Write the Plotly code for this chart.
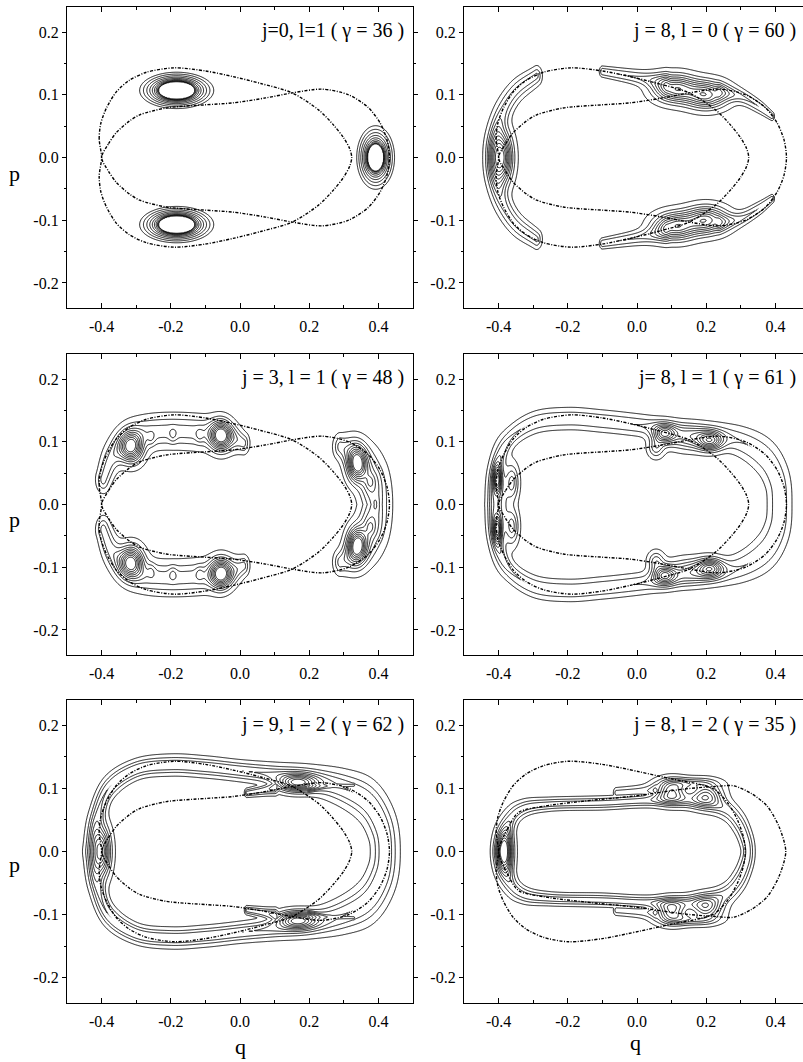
import numpy as np
import plotly.graph_objects as go

# ---------------- data ----------------
PANEL_LABELS = ["j=0, l=1 ( γ = 36 )", "j = 8, l = 0 ( γ = 60 )",
                "j = 3, l = 1 ( γ = 48 )", "j= 8, l = 1 ( γ = 61 )",
                "j = 9, l = 2 ( γ = 62 )", "j = 8, l = 2 ( γ = 35 )"]

X_TICKS = [-0.4, -0.2, 0.0, 0.2, 0.4]
X_TICK_TEXT = ["-0.4", "-0.2", "0.0", "0.2", "0.4"]
X_MINOR = [-0.5, -0.3, -0.1, 0.1, 0.3, 0.5]
Y_TICKS = [-0.2, -0.1, 0.0, 0.1, 0.2]
Y_TICK_TEXT = ["-0.2", "-0.1", "0.0", "0.1", "0.2"]
Y_MINOR = [-0.15, -0.05, 0.05, 0.15]

# separatrix branches, upper halves (q, p); lower half is the mirror p -> -p
SEP_A1 = [(-0.400, 0.000), (-0.407, 0.030), (-0.402, 0.055), (-0.385, 0.080), (-0.357, 0.105),
          (-0.320, 0.123), (-0.270, 0.136), (-0.190, 0.143), (-0.100, 0.138), (-0.020, 0.129),
          (0.060, 0.118), (0.151, 0.103), (0.227, 0.076), (0.270, 0.052), (0.300, 0.031),
          (0.317, 0.014), (0.323, 0.000)]
SEP_A2 = [(-0.400, 0.000), (-0.380, 0.022), (-0.357, 0.040), (-0.320, 0.058), (-0.290, 0.068),
          (-0.213, 0.079), (-0.100, 0.084), (-0.022, 0.087), (0.074, 0.095), (0.151, 0.103),
          (0.237, 0.109), (0.314, 0.100), (0.370, 0.080), (0.405, 0.055), (0.425, 0.028), (0.432, 0.000)]
SEP_B1 = [(-0.400, 0.000), (-0.407, 0.030), (-0.402, 0.055), (-0.385, 0.080), (-0.357, 0.105),
          (-0.320, 0.123), (-0.270, 0.136), (-0.199, 0.143), (-0.100, 0.138), (0.009, 0.126),
          (0.100, 0.115), (0.184, 0.106), (0.225, 0.098), (0.265, 0.075), (0.292, 0.048),
          (0.308, 0.022), (0.313, 0.000)]
SEP_B2 = [(-0.400, 0.000), (-0.375, 0.035), (-0.342, 0.062), (-0.266, 0.072), (-0.150, 0.080),
          (-0.007, 0.088), (0.137, 0.099), (0.225, 0.103), (0.280, 0.104), (0.330, 0.092),
          (0.376, 0.072), (0.410, 0.040), (0.430, 0.000)]

# panel 1: ring families (q0, p0, outer half-width q, outer half-width p, inner/outer radius ratio)
RINGS_1 = [(-0.183, 0.107, 0.107, 0.029, 0.46), (0.392, 0.0, 0.055, 0.051, 0.40)]

# other panels, upper halves (mirrored p -> -p):
# blobs: (q0, p0, sigma_q, sigma_p, amplitude); bands: (amplitude, ridge points (q, p, width))
BLOBS_2 = [(-0.392, 0.0, 0.020, 0.027, 1.0), (0.11, 0.11, 0.040, 0.014, 0.8), (0.20, 0.10, 0.040, 0.014, 0.8)]
BANDS_2 = [(0.28, [(-0.29, 0.130, 0.009), (-0.35, 0.105, 0.011), (-0.39, 0.07, 0.013), (-0.41, 0.03, 0.014), (-0.415, 0.0, 0.014)]),
           (0.25, [(0.24, 0.105, 0.008), (0.30, 0.097, 0.007), (0.35, 0.082, 0.006), (0.39, 0.066, 0.004)]),
           (0.25, [(-0.10, 0.137, 0.005), (0.0, 0.128, 0.007), (0.08, 0.12, 0.010)])]

BLOBS_3 = [(-0.314, 0.091, 0.022, 0.016, 0.9), (-0.055, 0.110, 0.020, 0.015, 0.9), (0.338, 0.065, 0.018, 0.018, 0.9),
           (0.392, 0.0, 0.026, 0.040, 0.30),
           (-0.256, 0.105, 0.008, 0.008, 0.12), (-0.194, 0.110, 0.008, 0.008, 0.12), (-0.117, 0.110, 0.008, 0.008, 0.12),
           (0.376, 0.036, 0.008, 0.008, 0.12), (0.392, 0.0, 0.008, 0.008, 0.12)]
BANDS_3 = [(0.30, [(-0.395, 0.04, 0.012), (-0.37, 0.075, 0.015), (-0.33, 0.10, 0.016), (-0.28, 0.113, 0.016), (-0.2, 0.117, 0.016),
                   (-0.1, 0.114, 0.016), (-0.03, 0.108, 0.014), (0.01, 0.098, 0.010)]),
           (0.30, [(0.29, 0.092, 0.012), (0.33, 0.08, 0.018), (0.36, 0.06, 0.022), (0.375, 0.04, 0.022)])]

BLOBS_4 = [(-0.403, 0.04, 0.008, 0.014, 0.7), (-0.36, 0.035, 0.012, 0.018, 0.35), (-0.395, 0.0, 0.02, 0.05, 0.3),
           (0.079, 0.112, 0.022, 0.010, 0.7), (0.211, 0.101, 0.025, 0.010, 0.7), (0.15, 0.104, 0.04, 0.012, 0.35),
           (0.055, 0.09, 0.015, 0.010, 0.3)]
BANDS_4 = [(0.25, [(-0.415, 0.0, 0.012), (-0.41, 0.05, 0.011), (-0.375, 0.10, 0.010), (-0.30, 0.13, 0.010), (-0.2, 0.137, 0.010),
                   (-0.1, 0.133, 0.010), (0.0, 0.127, 0.010), (0.1, 0.12, 0.010), (0.2, 0.113, 0.011), (0.3, 0.10, 0.014),
                   (0.37, 0.075, 0.018), (0.405, 0.04, 0.020), (0.412, 0.0, 0.020)])]

BLOBS_5 = [(-0.40, 0.0, 0.017, 0.026, 0.8), (0.165, 0.108, 0.038, 0.009, 0.8)]
BANDS_5 = [(0.35, [(-0.425, 0.0, 0.015), (-0.415, 0.05, 0.013), (-0.38, 0.10, 0.011), (-0.30, 0.13, 0.009), (-0.2, 0.137, 0.009),
                   (-0.1, 0.134, 0.009), (0.0, 0.128, 0.009), (0.1, 0.122, 0.010), (0.2, 0.115, 0.012), (0.3, 0.10, 0.016),
                   (0.37, 0.078, 0.020), (0.41, 0.04, 0.022), (0.42, 0.0, 0.022)]),
           (0.40, [(0.20, 0.103, 0.006), (0.33, 0.105, 0.003)]),
           (0.30, [(0.10, 0.10, 0.006), (0.02, 0.093, 0.004)])]

BLOBS_6 = [(-0.385, 0.0, 0.016, 0.022, 0.9), (0.10, 0.095, 0.030, 0.012, 0.7), (0.20, 0.09, 0.030, 0.012, 0.6),
           (0.15, 0.108, 0.050, 0.006, 0.3)]
BANDS_6 = [(0.30, [(-0.385, 0.0, 0.014), (-0.37, 0.045, 0.012), (-0.33, 0.068, 0.008), (-0.25, 0.075, 0.006), (-0.1, 0.077, 0.006),
                   (0.0, 0.08, 0.006), (0.1, 0.082, 0.007), (0.2, 0.078, 0.009), (0.26, 0.066, 0.010), (0.295, 0.045, 0.011),
                   (0.315, 0.02, 0.011), (0.321, 0.0, 0.011)]),
           (0.20, [(-0.06, 0.093, 0.005), (0.05, 0.097, 0.006)])]

PANEL_BLOBS = [[], BLOBS_2, BLOBS_3, BLOBS_4, BLOBS_5, BLOBS_6]
PANEL_BANDS = [[], BANDS_2, BANDS_3, BANDS_4, BANDS_5, BANDS_6]
PANEL_SEPS = [(SEP_A1, SEP_A2)] * 5 + [(SEP_B1, SEP_B2)]

# ---------------- field construction ----------------
Q_GRID = np.linspace(-0.5, 0.5, 501)
P_GRID = np.linspace(-0.2, 0.2, 321)
QQ, PP = np.meshgrid(Q_GRID, P_GRID)


def catmull_rom(pts, n=10):
    arr = np.asarray(pts, dtype=float)
    ext = np.vstack([2 * arr[0] - arr[1], arr, 2 * arr[-1] - arr[-2]])
    out = []
    for i in range(1, len(ext) - 2):
        p0, p1, p2, p3 = ext[i - 1], ext[i], ext[i + 1], ext[i + 2]
        for t in np.linspace(0, 1, n, endpoint=False):
            t2, t3 = t * t, t * t * t
            out.append(0.5 * ((2 * p1) + (-p0 + p2) * t + (2 * p0 - 5 * p1 + 4 * p2 - p3) * t2
                              + (-p0 + 3 * p1 - 3 * p2 + p3) * t3))
    out.append(arr[-1])
    return np.array(out)


def band_paths(pts):
    arr = [tuple(p) for p in pts]
    mirror = [(q, -p, w) for q, p, w in arr]
    if arr[-1][1] == 0:
        return [catmull_rom(arr + mirror[::-1][1:])]
    if arr[0][1] == 0:
        return [catmull_rom(mirror[::-1] + arr[1:])]
    return [catmull_rom(arr), catmull_rom(mirror)]


def band_value(pts, amp):
    out = np.zeros_like(QQ)
    for path in band_paths(pts):
        for a, b in zip(path[:-1], path[1:]):
            q1, p1, w1 = a
            q2, p2, w2 = b
            dq, dp = q2 - q1, p2 - p1
            L2 = dq * dq + dp * dp
            if L2 == 0:
                continue
            t = np.clip(((QQ - q1) * dq + (PP - p1) * dp) / L2, 0, 1)
            d2 = (QQ - (q1 + t * dq)) ** 2 + (PP - (p1 + t * dp)) ** 2
            w = w1 + t * (w2 - w1)
            np.maximum(out, amp * np.exp(-0.5 * d2 / w ** 2), out=out)
    return out


def density(blobs, bands):
    z = np.zeros_like(QQ)
    for amp, pts in bands:
        z = np.maximum(z, band_value(pts, amp))
    for q0, p0, sq, sp, a in blobs:
        for s in ((1, -1) if p0 != 0 else (1,)):
            z = z + a * np.exp(-0.5 * ((QQ - q0) / sq) ** 2 - 0.5 * ((PP - s * p0) / sp) ** 2)
    return z


def ring_field(rings):
    # level u (0 outer .. 1 inner) sits at radius r_in + (1 - r_in) (1 - u)^2
    z = np.full_like(QQ, -1.0)
    for q0, p0, aq, ap, rin in rings:
        for s in ((1, -1) if p0 != 0 else (1,)):
            r = np.sqrt(((QQ - q0) / (aq / 0.947)) ** 2 + ((PP - s * p0) / (ap / 0.947)) ** 2)
            u = 1 - np.sqrt(np.clip((r - rin) / (1 - rin), 0, None)) + np.clip(rin - r, 0, None)
            z = np.maximum(z, u)
    return z


def closed_curve(half):
    q = [pt[0] for pt in half] + [pt[0] for pt in reversed(half[:-1])]
    p = [pt[1] for pt in half] + [-pt[1] for pt in reversed(half[:-1])]
    return q, p


# ---------------- layout geometry ----------------
W, H = 803, 1062
COL_PX = [(67, 413), (464, 803)]
ROW_PX = [(7, 308), (354, 655), (700, 1003)]
X_RANGES = [[-0.5, 0.5], [-0.5, 0.5 - (413 - 67 - 339) / 346.0]]
SERIF = "Liberation Serif"

fig = go.Figure()
layout = dict(width=W, height=H, margin=dict(l=0, r=0, t=0, b=0),
              paper_bgcolor="white", plot_bgcolor="white", showlegend=False,
              font=dict(family=SERIF, color="black", size=16))
annotations = []

for i in range(6):
    r, c = divmod(i, 2)
    n = i + 1
    xa = "x" if n == 1 else f"x{n}"
    ya = "y" if n == 1 else f"y{n}"
    if i == 0:
        z = ring_field(RINGS_1)
    else:
        z = density(PANEL_BLOBS[i], PANEL_BANDS[i])
    z = z.astype(np.float32)
    fig.add_trace(go.Contour(x=Q_GRID, y=P_GRID, z=z, xaxis=xa, yaxis=ya,
                             contours=dict(coloring="lines", start=0.05, end=0.95, size=0.1),
                             colorscale=[[0, "black"], [1, "black"]], showscale=False,
                             line=dict(width=0.9, smoothing=1.0), hoverinfo="skip"))
    for half in PANEL_SEPS[i]:
        qs, ps = closed_curve(half)
        fig.add_trace(go.Scatter(x=qs, y=ps, xaxis=xa, yaxis=ya, mode="lines",
                                 line=dict(color="black", width=1.4, dash="3px,1.5px,1px,1.5px",
                                           shape="spline", smoothing=0.8),
                                 hoverinfo="skip"))
    x0, x1 = COL_PX[c]
    y0, y1 = ROW_PX[r]
    layout["xaxis" if n == 1 else f"xaxis{n}"] = dict(
        domain=[x0 / W, x1 / W], range=X_RANGES[c], anchor=ya,
        showline=True, linecolor="black", linewidth=1.2, mirror="ticks",
        ticks="inside", ticklen=5, tickwidth=1, tickcolor="black",
        tickmode="array", tickvals=X_TICKS, ticktext=X_TICK_TEXT,
        minor=dict(tickvals=X_MINOR, ticks="inside", ticklen=3, tickcolor="black"),
        showgrid=False, zeroline=False, tickfont=dict(family=SERIF, size=16, color="black"),
        ticklabelstandoff=4)
    layout["yaxis" if n == 1 else f"yaxis{n}"] = dict(
        domain=[1 - y1 / H, 1 - y0 / H], range=[-0.24, 0.24], anchor=xa,
        showline=True, linecolor="black", linewidth=1.2, mirror=("ticks" if c == 0 else False),
        ticks="outside", ticklen=4, tickwidth=1, tickcolor="black",
        tickmode="array", tickvals=Y_TICKS, ticktext=Y_TICK_TEXT,
        minor=dict(tickvals=Y_MINOR, ticks="outside", ticklen=2, tickcolor="black"),
        showgrid=False, zeroline=False, tickfont=dict(family=SERIF, size=16, color="black"))
    annotations.append(dict(text=PANEL_LABELS[i], xref="paper", yref="paper",
                            x=(406 if c == 0 else 798) / W, y=1 - (y0 + 24) / H,
                            xanchor="right", yanchor="middle", showarrow=False,
                            font=dict(family=SERIF, size=20, color="black")))

for yc in (174, 519, 864):
    annotations.append(dict(text="p", xref="paper", yref="paper", x=15 / W, y=1 - yc / H,
                            xanchor="center", yanchor="middle", showarrow=False,
                            font=dict(family=SERIF, size=22, color="black")))
for xc, yc in ((241, 1046), (635, 1042)):
    annotations.append(dict(text="q", xref="paper", yref="paper", x=xc / W, y=1 - yc / H,
                            xanchor="center", yanchor="middle", showarrow=False,
                            font=dict(family=SERIF, size=22, color="black")))

layout["annotations"] = annotations
fig.update_layout(**layout)
fig.write_html("out.html")
